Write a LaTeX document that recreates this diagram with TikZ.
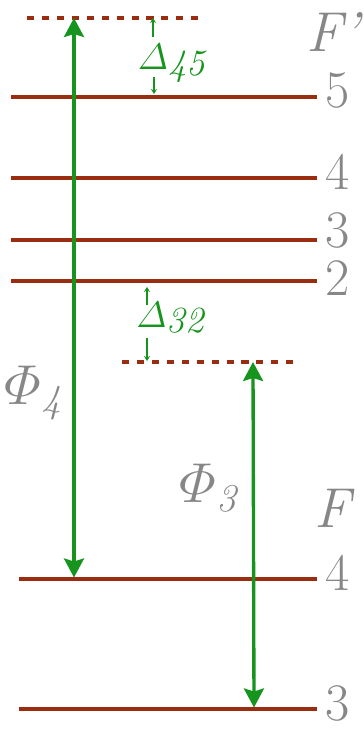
\RequirePackage{fix-cm}
\documentclass[tikz,border=0pt]{standalone}
\usepackage{amsmath}
\usetikzlibrary{arrows.meta}
\definecolor{lvlbrown}{HTML}{9A2C10}
\definecolor{trgreen}{HTML}{17941E}
\definecolor{lblgray}{HTML}{878787}

\begin{document}
\begin{tikzpicture}[
  level/.style={lvlbrown, line width=2.3pt},
  virt/.style={lvlbrown, line width=2pt, dash pattern=on 4pt off 4.5pt},
  num/.style={right, inner sep=0pt, xshift=0.12cm, yshift=0.12cm, lblgray, font=\fontsize{30}{34}\selectfont},
  lbl/.style={lblgray, inner sep=0pt, font=\fontsize{32}{36}\selectfont},
  arrow/.style={{Stealth[length=3.8mm, width=4mm, inset=0.6mm]}-{Stealth[length=3.8mm, width=4mm, inset=0.6mm]}, trgreen, line width=1.9pt},
  gap/.style={-{Stealth[length=1mm, width=1.2mm]}, trgreen, line width=0.8pt},
  dlbl/.style={trgreen, inner sep=0pt, font=\fontsize{21}{24}\selectfont},
]
\useasboundingbox (0,0) rectangle (7.28,14.6);

% Excited state F' (top)
\draw[virt] (0.54,14.24) -- (4.10,14.24);
\node[lbl] (fp) at (6.70,13.96) {\textit{F’}};
\draw[level] (0.22,12.66) -- (6.34,12.66) node[num] (e5) {5};
\draw[level] (0.22,11.04) -- (6.34,11.04) node[num] (e4) {4};
\draw[level] (0.22,9.80) -- (6.34,9.80) node[num, yshift=0.06cm] (e3) {3};
\draw[level] (0.22,8.98) -- (6.34,8.98) node[num, yshift=-0.06cm] (e2) {2};

% Ground state F (bottom)
\draw[virt] (2.44,7.36) -- (6.00,7.36);
\node[lbl] (f) at (6.70,4.44) {\textit{F}};
\draw[level] (0.38,3.02) -- (6.34,3.02) node[num] (g4) {4};
\draw[level] (0.38,0.42) -- (6.34,0.42) node[num] (g3) {3};

% Arrow end points
\coordinate (a4top) at (1.48,14.24);
\coordinate (a4bot) at (1.48,3.05);
\coordinate (a3top) at (5.06,7.36);
\coordinate (a3bot) at (5.08,0.45);

% Transitions
\draw[arrow] (a4bot) -- (a4top);
\draw[arrow] (a3bot) -- (a3top);
\node[lbl] (phi4) at (0.72,6.74) {$\varPhi_{\mathit{4}}$};
\node[lbl] (phi3) at (4.22,4.84) {$\varPhi_{\mathit{3}}$};

% Detunings
\coordinate (d45a) at (3.06,13.86);
\coordinate (d45b) at (3.06,14.24);
\coordinate (d45c) at (3.08,13.06);
\coordinate (d45d) at (3.08,12.72);
\coordinate (d32a) at (2.94,8.50);
\coordinate (d32b) at (2.94,8.86);
\coordinate (d32c) at (2.94,7.84);
\coordinate (d32d) at (2.94,7.38);
\draw[gap] (d45a) -- (d45b);
\draw[gap] (d45c) -- (d45d);
\draw[gap] (d32a) -- (d32b);
\draw[gap] (d32c) -- (d32d);
\node[dlbl] (d45) at (3.43,13.33) {$\varDelta$\raisebox{-3pt}{\itshape 45}};
\node[dlbl] (d32) at (3.40,8.24) {$\varDelta$\raisebox{-3pt}{\itshape 32}};

\end{tikzpicture}
\end{document}
